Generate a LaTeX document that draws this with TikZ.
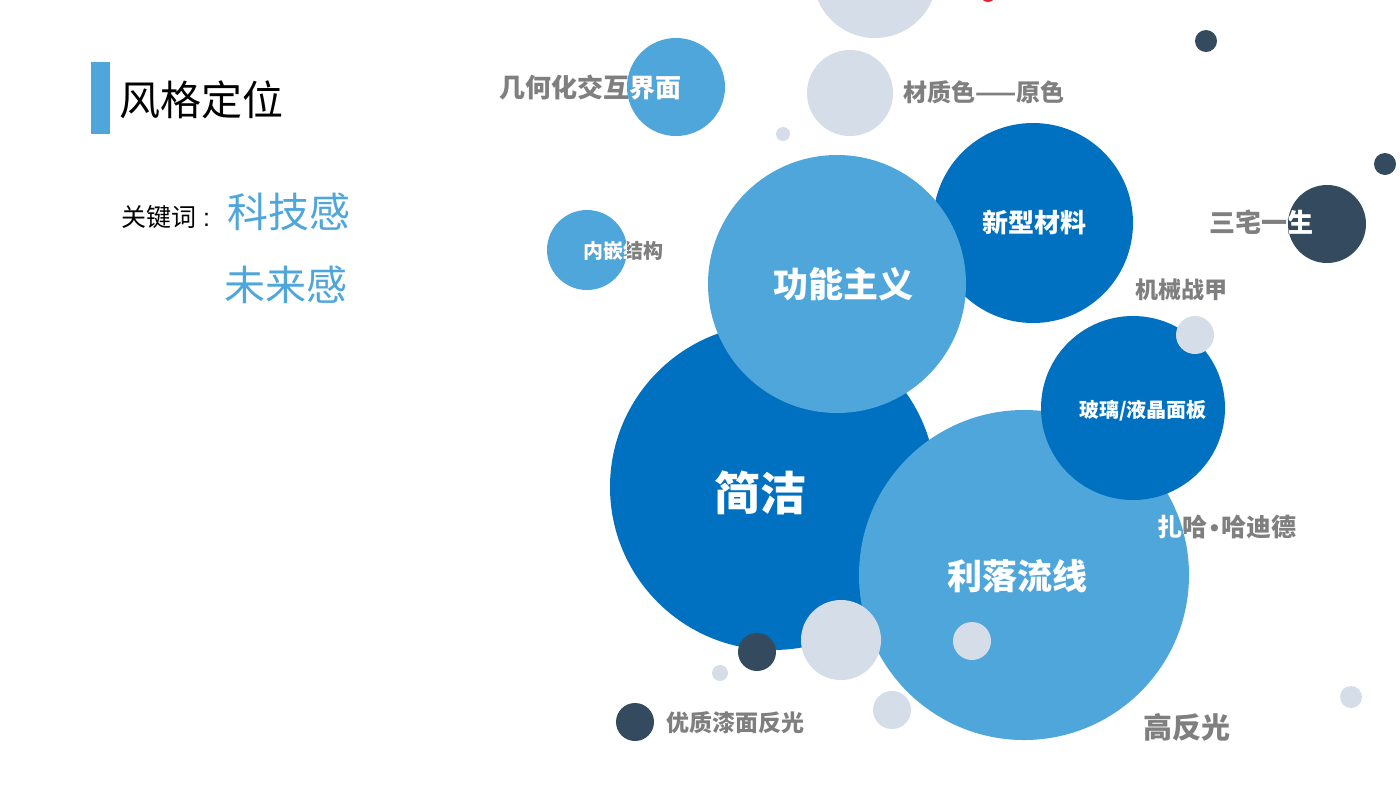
\documentclass[tikz,border=0pt]{standalone}
\usepackage{fontspec}
\newfontfamily\cjk{Noto Sans CJK SC}
\newfontfamily\lat{Liberation Sans}
\definecolor{dblue}{HTML}{0070C0}
\definecolor{lblue}{HTML}{4FA6DB}
\definecolor{lgray}{HTML}{D4DDE8}
\definecolor{slate}{HTML}{344B5F}
\definecolor{tgray}{HTML}{7F7F7F}
\definecolor{dred}{HTML}{E8202A}
\tikzset{
  bub/.style={circle, inner sep=0pt, minimum size=#1},
  wt/.style={text=white, font=\cjk\bfseries, inner sep=0pt},
  gt/.style={text=tgray, font=\cjk\bfseries, inner sep=0pt},
}
\newcommand{\fs}[1]{\fontsize{#1}{#1}\selectfont}
% split text: gray outside circle, white inside
\newcommand{\splittxt}[7]{% #1 name, #2 pos, #3 anchor, #4 size, #5 text, #6 circle centre, #7 radius
  \node[gt, anchor=#3, font=\cjk\bfseries\fs{#4}] (#1) at #2 {#5};
  \begin{scope}
    \clip #6 circle (#7);
    \node[wt, anchor=#3, font=\cjk\bfseries\fs{#4}] (#1w) at #2 {#5};
  \end{scope}}
\begin{document}
\begin{tikzpicture}[x=1pt,y=-1pt]
\useasboundingbox (0,0) rectangle (1400,788);
\fill[white] (0,0) rectangle (1400,788);

% left header
\fill[lblue] (91,62) rectangle (110,134);
\node[anchor=west, inner sep=0pt, font=\cjk\fs{41}] (title) at (119,100) {风格定位};
\node[anchor=west, inner sep=0pt, font=\cjk\fs{25}] (kw) at (121,217) {关键词\hspace{7pt}{\lat:}};
\node[anchor=west, inner sep=0pt, font=\cjk\fs{41}, text=lblue] (k1) at (227,212) {科技感};
\node[anchor=west, inner sep=0pt, font=\cjk\fs{41}, text=lblue] (k2) at (224,285) {未来感};

% background small bubbles
\node[bub=124, fill=lgray] (top) at (875,-24) {};
\node[bub=16, fill=dred] (red) at (988,-6) {};
\node[bub=86, fill=lgray] (mat) at (850,93) {};
\node[bub=98, fill=lblue] (geo) at (676,87) {};
\node[bub=14, fill=lgray] (s1) at (783,134) {};
\node[bub=22, fill=slate] (d1) at (1206,41) {};
\node[bub=22, fill=slate] (d2) at (1385,164) {};
\node[bub=78, fill=slate] (sz) at (1327,224) {};
\node[bub=80, fill=lblue] (nq) at (587,250) {};

% main bubbles
\node[bub=200, fill=dblue] (xx) at (1033,223) {};
\node[bub=326, fill=dblue] (jj) at (773,487) {};
\node[bub=258, fill=lblue] (gn) at (837,284) {};
\node[bub=330, fill=lblue] (ll) at (1024,575) {};
\node[bub=184, fill=dblue] (bl) at (1133,408) {};
\node[bub=38, fill=lgray] (s2) at (1195,335) {};
\node[bub=80, fill=lgray] (s3) at (841,640) {};
\node[bub=38, fill=slate] (d3) at (757,652) {};
\node[bub=16, fill=lgray] (s4) at (720,673) {};
\node[bub=38, fill=slate] (d4) at (635,722) {};
\node[bub=38, fill=lgray] (s5) at (892,710) {};
\node[bub=38, fill=lgray] (s6) at (972,641) {};
\node[bub=22, fill=lgray] (s7) at (1351,697) {};

% labels inside bubbles
\node[wt, font=\cjk\bfseries\fs{26}] (txx) at (1034,223) {新型材料};
\node[wt, font=\cjk\bfseries\fs{35}] (tgn) at (843,284) {功能主义};
\node[wt, font=\cjk\bfseries\fs{46}] (tjj) at (760,493) {简洁};
\node[wt, font=\cjk\bfseries\fs{35}] (tll) at (1017,576) {利落流线};
\node[wt, font=\cjk\bfseries\fs{20}] (tbl) at (1143,411) {玻璃/液晶面板};

% split labels
\splittxt{tgeo}{(499,88)}{west}{26}{几何化交互界面}{(676,87)}{49}
\splittxt{tnq}{(583,251)}{west}{20}{内嵌结构}{(587,250)}{40}
\splittxt{tsz}{(1209,222)}{west}{26}{三宅一生}{(1327,224)}{39}
\splittxt{tzh}{(1157,527)}{west}{25}{扎哈\hspace{3pt}{\lat\bfseries•}\hspace{3pt}哈迪德}{(1024,575)}{165}

% gray labels
\node[gt, anchor=west, font=\cjk\bfseries\fs{24}] (tmat) at (903,92) {材质色——原色};
\node[gt, anchor=west, font=\cjk\bfseries\fs{23}] (tjx) at (1135,290) {机械战甲};
\node[gt, anchor=west, font=\cjk\bfseries\fs{29}] (tgf) at (1143,727) {高反光};
\node[gt, anchor=west, font=\cjk\bfseries\fs{23}] (tyz) at (666,723) {优质漆面反光};
\end{tikzpicture}
\end{document}
